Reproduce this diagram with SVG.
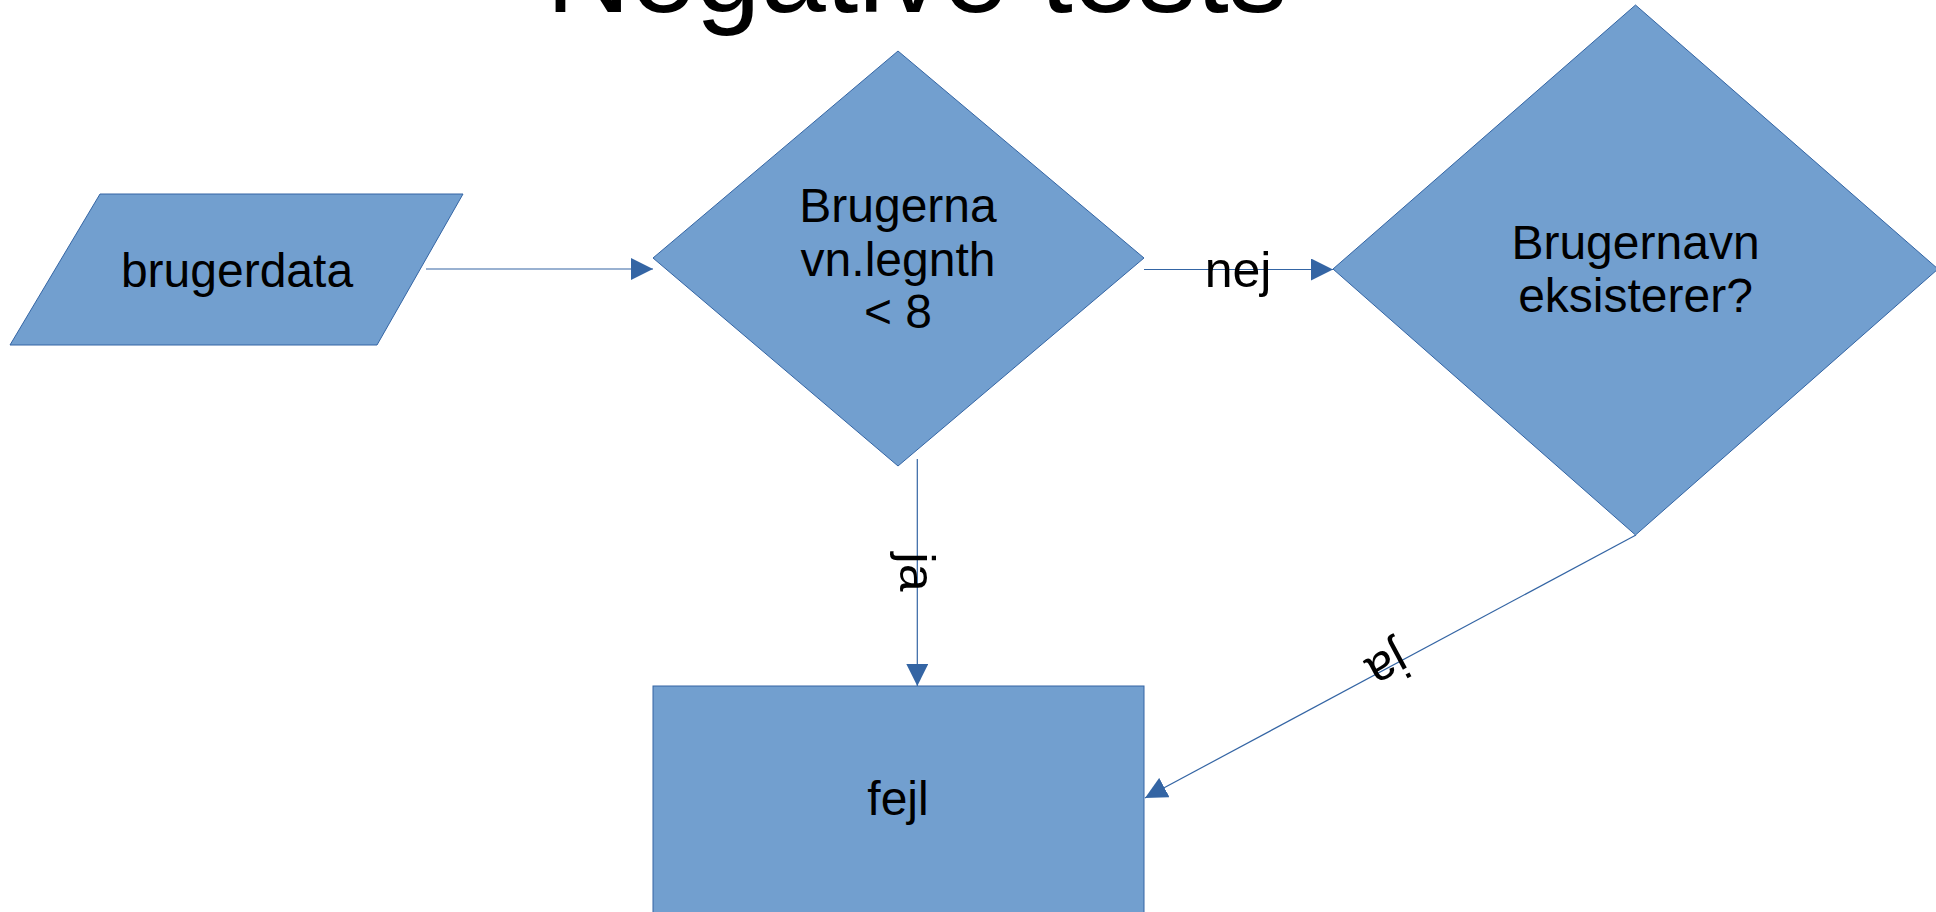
<svg xmlns="http://www.w3.org/2000/svg" width="1936" height="912" viewBox="0 0 1936 912">
<style>
.shape{fill:#729fcf;stroke:#3465a4;stroke-width:1}
.lbl{font-family:"Liberation Sans",Arial,sans-serif;font-size:48px;fill:#000;text-anchor:middle}
.elbl{font-family:"Liberation Sans",Arial,sans-serif;font-size:50px;fill:#000;text-anchor:middle}
.conn{stroke:#3465a4;stroke-width:1.2;fill:none;marker-end:url(#arr)}
</style>
<defs>
<marker id="arr" markerUnits="userSpaceOnUse" markerWidth="22" markerHeight="22" refX="22" refY="11" orient="auto" viewBox="0 0 22 22">
<path d="M0,0 L22,11 L0,22 Z" fill="#3465a4"/>
</marker>
</defs>
<rect width="1936" height="912" fill="#fff"/>
<text id="title" x="546" y="11.5" font-family="Liberation Sans,Arial,sans-serif" font-size="117" fill="#000">Negative tests</text>
<g id="connectors">
<line class="conn" x1="426" y1="269" x2="653" y2="269"/>
<line class="conn" x1="1144" y1="269.5" x2="1333" y2="269.5"/>
<line class="conn" x1="917.3" y1="459" x2="917.3" y2="686"/>
<line class="conn" x1="1636" y1="535" x2="1145" y2="798"/>
<text class="elbl" x="1238" y="287">nej</text>
<text class="elbl" transform="translate(900,572) rotate(90)">ja</text>
<text class="elbl" transform="translate(1380,652) rotate(151.8)">ja</text>
</g>
<g id="brugerdata">
<polygon class="shape" points="100,194 463,194 377,345 10,345"/>
<text class="lbl" x="237" y="287">brugerdata</text>
</g>
<g id="check-length">
<polygon class="shape" points="898,51 1144,258 898,466 653,258"/>
<text class="lbl" x="898" y="222">Brugerna</text>
<text class="lbl" x="898" y="276">vn.legnth</text>
<text class="lbl" x="898" y="328">&lt; 8</text>
</g>
<g id="check-exists">
<polygon class="shape" points="1635.5,5 1938,269 1635.5,535 1333,269"/>
<text class="lbl" x="1635.5" y="259">Brugernavn</text>
<text class="lbl" x="1635.5" y="312">eksisterer?</text>
</g>
<g id="fejl">
<rect class="shape" x="653" y="686" width="491" height="240"/>
<text class="lbl" x="898" y="815">fejl</text>
</g>
</svg>
